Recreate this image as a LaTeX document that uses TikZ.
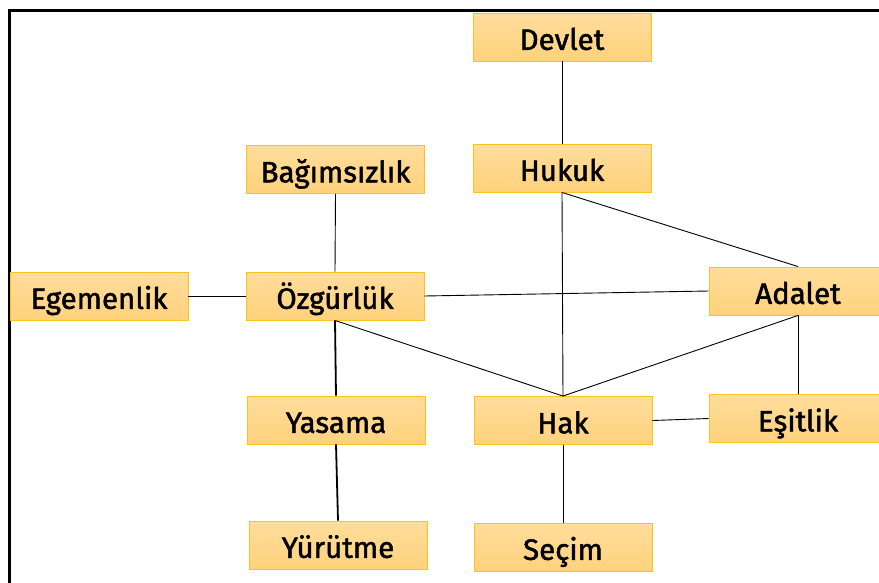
\documentclass[tikz,border=0pt]{standalone}
\usepackage{fontspec}
\setmainfont{Fira Sans}[UprightFeatures={FakeBold=1.6}]
\begin{document}
\begin{tikzpicture}[x=1pt,y=-1pt,
  concept/.style={rectangle, draw=boxedge, line width=0.9pt,
    top color=boxtop, bottom color=boxbottom,
    minimum width=178pt, minimum height=48pt, inner sep=0pt,
    text height=28pt, text depth=2.3pt,
    font=\fontsize{29.5}{32}\selectfont},
  link/.style={draw=black, line width=0.9pt},
  strong/.style={draw=black, line width=1.8pt}]
\definecolor{boxedge}{HTML}{FFC21A}
\definecolor{boxtop}{HTML}{FFDD9C}
\definecolor{boxbottom}{HTML}{FFD27C}
\useasboundingbox (0,0) rectangle (879,582);
\fill[white] (0,0) rectangle (879,582);

% outer frame
\draw[line width=3pt] (9,590) -- (9,10) -- (890,10);

% concepts
\node[concept] (devlet)  at (562,37)  {Devlet};
\node[concept] (hukuk)   at (562,168) {Hukuk};
\node[concept] (bagim)   at (335.5,169.5) {Bağımsızlık};
\node[concept] (egemen)  at (99,296)  {Egemenlik};
\node[concept] (ozgur)   at (335,296) {Özgürlük};
\node[concept] (adalet)  at (798,291) {Adalet};
\node[concept] (yasama)  at (336,420) {Yasama};
\node[concept] (hak)     at (563,420.5) {Hak};
\node[concept] (esitlik) at (798,418.5) {Eşitlik};
\node[concept] (yurutme) at (338,545) {Yürütme};
\node[concept] (secim)   at (563,547) {Seçim};

% connections
\path[link] (devlet.south) -- (hukuk.north);
\path[link] (hukuk.south) -- (adalet.north);
\path[link] (hukuk.south) -- (hak.north);
\path[link] (bagim.south) -- (ozgur.north);
\path[link] (egemen.east) -- (ozgur.west);
\path[link] (ozgur.east) -- (adalet.west);
\path[link] (ozgur.south) -- (hak.north);
\path[strong] (ozgur.south) -- (yasama.north);
\path[strong] (yasama.south) -- (yurutme.north);
\path[link] (adalet.south) -- (hak.north);
\path[link] (adalet.south) -- (esitlik.north);
\path[link] (hak.east) -- (esitlik.west);
\path[link] (hak.south) -- (secim.north);
\end{tikzpicture}
\end{document}
